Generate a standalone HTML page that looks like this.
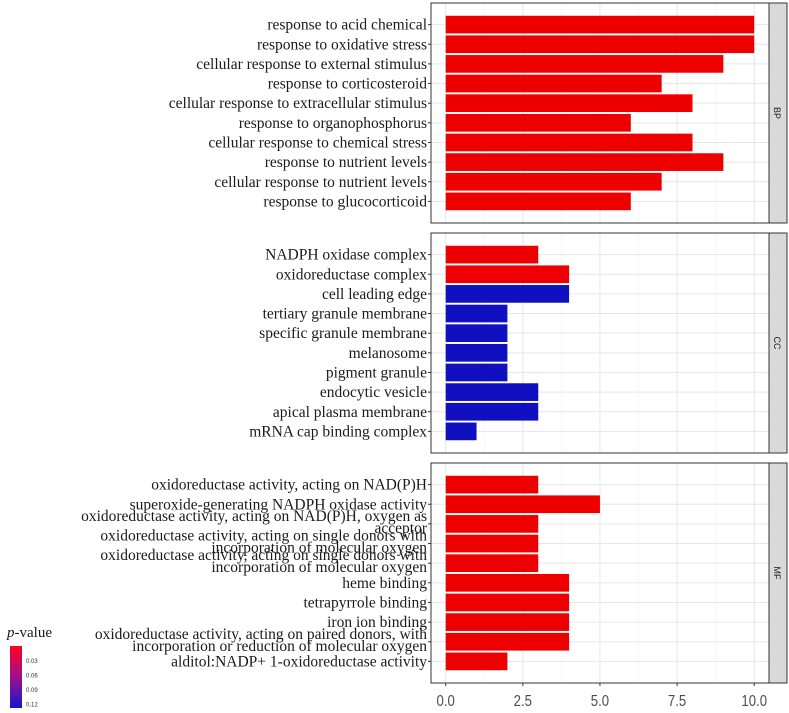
<!DOCTYPE html>
<html><head><meta charset="utf-8"><style>
body{margin:0;background:#fff;width:789px;height:713px;overflow:hidden}
svg{display:block}
</style></head><body>
<svg id="c" width="789" height="713" xmlns="http://www.w3.org/2000/svg"></svg>
<script>
const bpTerms=["response to acid chemical","response to oxidative stress","cellular response to external stimulus","response to corticosteroid","cellular response to extracellular stimulus","response to organophosphorus","cellular response to chemical stress","response to nutrient levels","cellular response to nutrient levels","response to glucocorticoid"];
const bpValues=[10,10,9,7,8,6,8,9,7,6];
const bpColors=["r","r","r","r","r","r","r","r","r","r"];
const ccTerms=["NADPH oxidase complex","oxidoreductase complex","cell leading edge","tertiary granule membrane","specific granule membrane","melanosome","pigment granule","endocytic vesicle","apical plasma membrane","mRNA cap binding complex"];
const ccValues=[3,4,4,2,2,2,2,3,3,1];
const ccColors=["r","r","b","b","b","b","b","b","b","b"];
const mfTerms=["oxidoreductase activity, acting on NAD(P)H","superoxide-generating NADPH oxidase activity","oxidoreductase activity, acting on NAD(P)H, oxygen as|acceptor","oxidoreductase activity, acting on single donors with|incorporation of molecular oxygen","oxidoreductase activity, acting on single donors with|incorporation of molecular oxygen","heme binding","tetrapyrrole binding","iron ion binding","oxidoreductase activity, acting on paired donors, with|incorporation or reduction of molecular oxygen","alditol:NADP+ 1-oxidoreductase activity"];
const mfValues=[3,5,3,3,3,4,4,4,4,2];
const mfColors=["r","r","r","r","r","r","r","r","r","r"];
const xTicks=[0,2.5,5,7.5,10];
const xTickLabels=["0.0","2.5","5.0","7.5","10.0"];
const legendTicks=["0.03","0.06","0.09","0.12"];

const NS="http://www.w3.org/2000/svg";
const svg=document.getElementById('c');
function mk(t,a,p){const e=document.createElementNS(NS,t);for(const k in a)e.setAttribute(k,a[k]);(p||svg).appendChild(e);return e;}
const PL=431,PR=769,SR=787;
const x=v=>445.7+v*30.85;
const COL={r:"#ee0000",b:"#1010c0"};
const panels=[["BP",bpTerms,bpValues,bpColors,3],["CC",ccTerms,ccValues,ccColors,233],["MF",mfTerms,mfValues,mfColors,463]];
panels.forEach(([name,terms,vals,cols,top])=>{
  const H=220,bot=top+H,n=terms.length,u=H/(n+1.2);
  const y=i=>top+(0.6+i+0.5)*u;
  const g=mk('g',{});
  
  
  mk('rect',{x:PL,y:top,width:PR-PL,height:H,fill:'#fff'},g);
  for(let k=0;k<xTicks.length-1;k++){const m=(xTicks[k]+xTicks[k+1])/2;mk('line',{x1:x(m),x2:x(m),y1:top,y2:bot,stroke:'#f2f2f2','stroke-width':0.6},g);}
  xTicks.forEach(t=>mk('line',{x1:x(t),x2:x(t),y1:top,y2:bot,stroke:'#e6e6e6','stroke-width':1},g));
  terms.forEach((t,i)=>mk('line',{x1:PL,x2:PR,y1:y(i),y2:y(i),stroke:'#e6e6e6','stroke-width':1},g));
  terms.forEach((t,i)=>{
    const r=mk('rect',{x:x(0),y:y(i)-0.45*u,width:x(vals[i])-x(0),height:0.9*u,fill:COL[cols[i]]},g);
    
    
    mk('line',{x1:PL-3,x2:PL,y1:y(i),y2:y(i),stroke:'#333','stroke-width':1},g);
    const lines=t.split('|');
    const tx=mk('text',{x:PL-4,y:lines.length>1?y(i)-3:y(i)+5,'text-anchor':'end','font-family':'Liberation Serif, serif','font-size':15.5,fill:'#1a1a1a'},g);
    
    
    lines.forEach((l,j)=>{const s=mk('tspan',{x:PL-4,dy:j?12:0},tx);s.textContent=l;});
  });
  mk('rect',{x:PL,y:top,width:PR-PL,height:H,fill:'none',stroke:'#333','stroke-width':1},g);
  mk('rect',{x:PR,y:top,width:SR-PR,height:H,fill:'#d9d9d9',stroke:'#333','stroke-width':1},g);
  const st=mk('text',{x:0,y:0,transform:`translate(${PR+5},${top+H/2}) rotate(90)`,'text-anchor':'middle','font-family':'Liberation Sans, sans-serif','font-size':9,fill:'#1a1a1a'},g);
  st.textContent=name;
  
  
});
xTicks.forEach((t,i)=>{
  mk('line',{x1:x(t),x2:x(t),y1:683,y2:686,stroke:'#333'});
  const tx=mk('text',{x:0,y:0,transform:`translate(${x(t)},706) scale(0.85,1)`,'text-anchor':'middle','font-family':'Liberation Sans, sans-serif','font-size':15.5,fill:'#4d4d4d'});
  tx.textContent=xTickLabels[i];
  
  
});
const lg=mk('g',{});


const defs=mk('defs',{},lg);
const gr=mk('linearGradient',{id:'gd',x1:0,y1:0,x2:0,y2:1},defs);
mk('stop',{offset:0,'stop-color':'#ff0022'},gr);
mk('stop',{offset:0.5,'stop-color':'#a0108a'},gr);
mk('stop',{offset:1,'stop-color':'#1515d0'},gr);
const lt=mk('text',{x:7,y:637,'font-family':'Liberation Serif, serif','font-size':15,fill:'#1a1a1a'},lg);
lt.innerHTML='<tspan font-style="italic">p</tspan>-value';
mk('rect',{x:10,y:646,width:12,height:62,fill:'url(#gd)'},lg);
legendTicks.forEach((t,i)=>{
  const tx=mk('text',{x:26,y:663+i*14.5,'font-family':'Liberation Sans, sans-serif','font-size':6,fill:'#333'},lg);
  tx.textContent=t;
});
</script>
</body></html>
